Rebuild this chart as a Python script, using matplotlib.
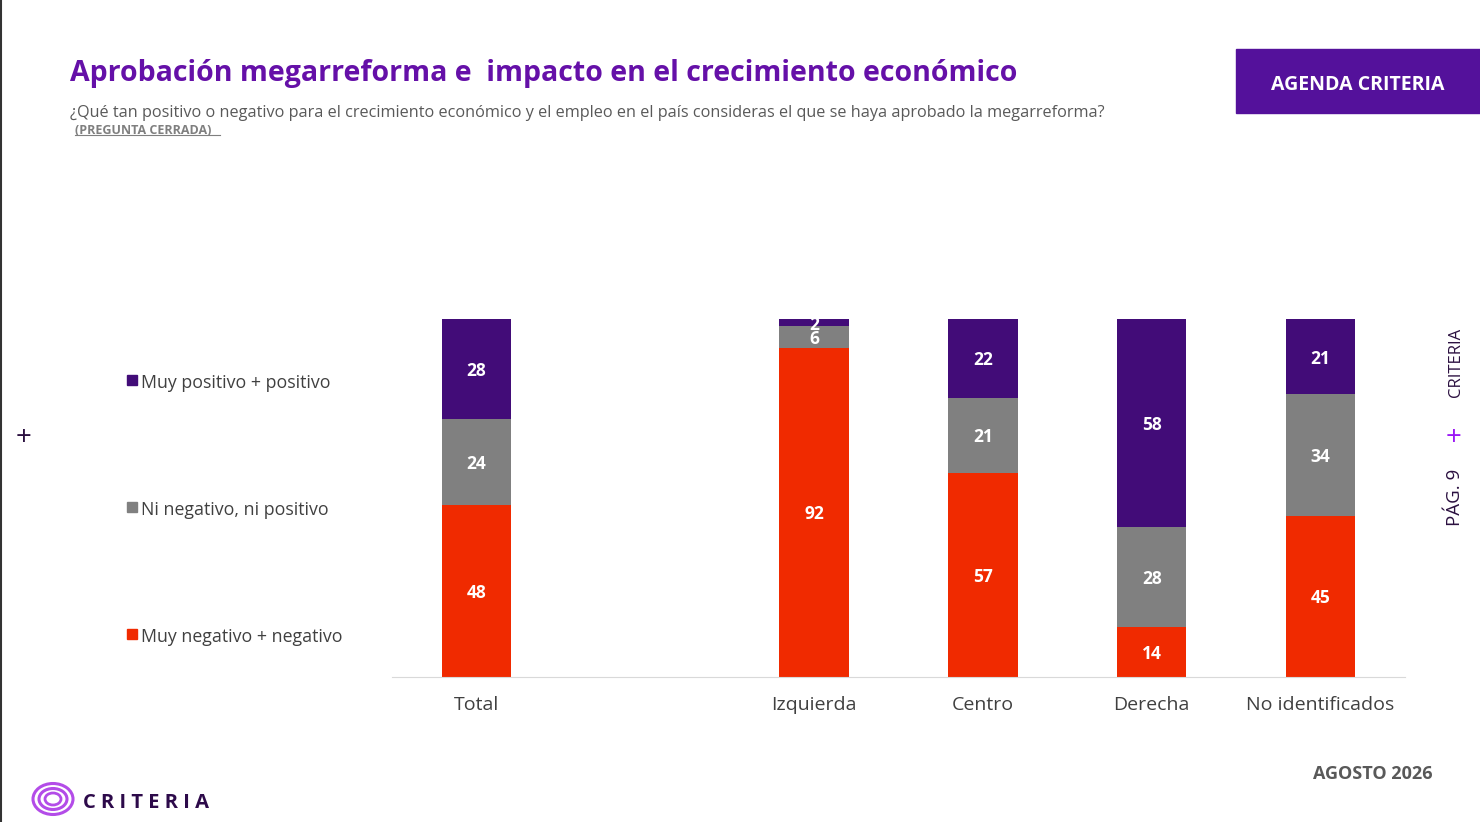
import matplotlib
matplotlib.use("Agg")
import matplotlib.pyplot as plt
from matplotlib.patches import Rectangle, Ellipse
import numpy as np

plt.rcParams['font.family'] = ['Open Sans', 'DejaVu Sans']

# data
categories = ["Total", "", "Izquierda", "Centro", "Derecha", "No identificados"]
negativo = [48, None, 92, 57, 14, 45]
neutro = [24, None, 6, 21, 28, 34]
positivo = [28, None, 2, 22, 58, 21]
series_names = ["Muy negativo + negativo", "Ni negativo, ni positivo", "Muy positivo + positivo"]
series_colors = ["#F02A00", "#808080", "#420C78"]

W, H = 1480, 822
fig = plt.figure(figsize=(W / 100, H / 100), dpi=100)

# overlay in pixel coordinates for slide decorations
bg = fig.add_axes([0, 0, 1, 1])
bg.set_xlim(0, W)
bg.set_ylim(H, 0)
bg.axis("off")

# chart axes
x0, x1, yb, yt = 392, 1405, 677, 319
ax = fig.add_axes([x0 / W, (H - yb) / H, (x1 - x0) / W, (yb - yt) / H])
ax.set_xlim(-0.5, 5.5)
ax.set_ylim(0, 100)

xs = np.arange(len(categories))
for i, c in enumerate(categories):
    if negativo[i] is None:
        continue
    bottom = 0
    for vals, col in zip([negativo, neutro, positivo], series_colors):
        v = vals[i]
        ax.bar(xs[i], v, 0.41, bottom=bottom, color=col, clip_on=False)
        ax.text(xs[i], bottom + v / 2, str(v), ha="center", va="center_baseline",
                color="white", fontsize=12.5, fontweight="bold")
        bottom += v

ax.set_xticks([x for x, c in zip(xs, categories) if c])
ax.set_xticklabels([c for c in categories if c], fontsize=14, color="#404040")
ax.tick_params(axis="x", length=0, pad=14)
ax.set_yticks([])
for s in ["top", "right", "left"]:
    ax.spines[s].set_visible(False)
ax.spines["bottom"].set_color("#D9D9D9")
ax.patch.set_alpha(0)

# legend (manual, spread on the left)
for name, col, y in zip(series_names, series_colors, [634, 507, 380]):
    bg.add_patch(Rectangle((127, y - 5), 10, 10, color=col))
    bg.text(141, y + 1, name, fontsize=12.8, color="#404040", va="center_baseline", ha="left")

# titles
bg.text(70, 70, "Aprobación megarreforma e  impacto en el crecimiento económico",
        fontsize=20.5, fontweight="bold", color="#6510A8", va="center_baseline", ha="left")
bg.text(70, 111, "¿Qué tan positivo o negativo para el crecimiento económico y el empleo en el país consideras el que se haya aprobado la megarreforma?",
        fontsize=11.7, color="#595959", va="center_baseline", ha="left")
bg.text(75, 129, "(PREGUNTA CERRADA)", fontsize=9, fontweight="bold",
        color="#7F7F7F", va="center_baseline", ha="left")
bg.plot([75, 220], [135, 135], color="#7F7F7F", lw=0.8)

# agenda box
bg.add_patch(Rectangle((1236, 49), 244, 64, color="#54119B"))
bg.text(1358, 83, "AGENDA CRITERIA", fontsize=14, fontweight="bold",
        color="white", ha="center", va="center_baseline")

# side marks
bg.text(24, 434, "+", fontsize=20, color="#2B1040", ha="center", va="center_baseline")
bg.text(1454, 434, "+", fontsize=20, color="#9B19F5", ha="center", va="center_baseline")
bg.text(1456, 362, "CRITERIA", fontsize=12, color="#2B1040", rotation=90,
        ha="center", va="center")
bg.text(1455, 497, "PÁG. 9", fontsize=13.5, color="#2B1040", rotation=90,
        ha="center", va="center")

bg.text(1433, 772, "AGOSTO 2026", fontsize=13, fontweight="bold",
        color="#595959", ha="right", va="center_baseline")

# logo
for w, h, lw in [(40, 31, 2.2), (28, 21, 2.2), (16, 12, 2.0)]:
    bg.add_patch(Ellipse((53, 799), w, h, fill=False, ec="#B34CE8", lw=lw))
bg.text(83, 800, "C R I T E R I A", fontsize=14.5, fontweight="bold",
        color="#2D0A4A", ha="left", va="center_baseline")

# left border
bg.plot([0.5, 0.5], [0, H], color="#333333", lw=1.5)

fig.savefig("out.png", dpi=100)
